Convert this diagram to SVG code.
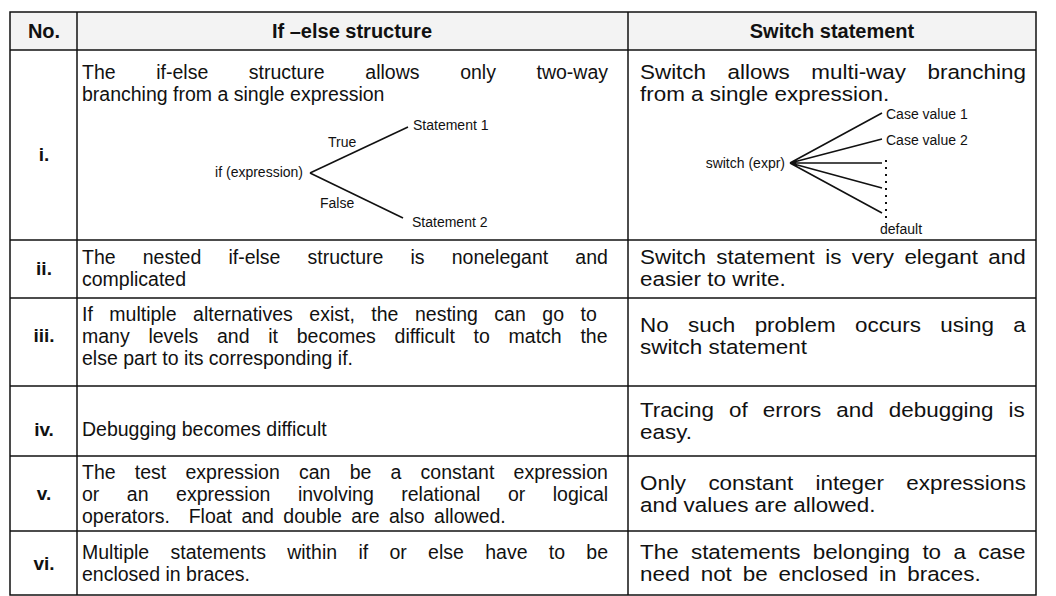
<svg xmlns="http://www.w3.org/2000/svg" width="1056" height="596" viewBox="0 0 1056 596">
  <style>
    text { font-family: "Liberation Sans", Arial, sans-serif; fill: #111; }
    .hd { font-size: 20px; font-weight: bold; }
    .no { font-size: 19px; font-weight: bold; text-anchor: middle; }
    .bd { font-size: 19.5px; }
    .sm { font-size: 14px; }
    .grid { stroke: #111; stroke-width: 1.5; fill: none; }
    .br { stroke: #111; stroke-width: 1.6; fill: none; }
  </style>

  <!-- table frame and rules -->
  <g id="table">
    <rect x="10" y="12" width="1026" height="38" fill="#f3f3f3"/>
    <rect class="grid" x="10" y="12" width="1026" height="583"/>
    <line class="grid" x1="77" y1="12" x2="77" y2="595"/>
    <line class="grid" x1="628" y1="12" x2="628" y2="595"/>
    <line class="grid" x1="10" y1="50" x2="1036" y2="50"/>
    <line class="grid" x1="10" y1="240" x2="1036" y2="240"/>
    <line class="grid" x1="10" y1="298" x2="1036" y2="298"/>
    <line class="grid" x1="10" y1="386" x2="1036" y2="386"/>
    <line class="grid" x1="10" y1="456" x2="1036" y2="456"/>
    <line class="grid" x1="10" y1="531" x2="1036" y2="531"/>
  </g>

  <!-- header -->
  <g id="header">
    <text class="hd" x="44" y="38" text-anchor="middle">No.</text>
    <text class="hd" x="352" y="38" text-anchor="middle">If –else structure</text>
    <text class="hd" x="832" y="38" text-anchor="middle">Switch statement</text>
  </g>

  <!-- row numbers -->
  <g id="row-numbers">
    <text class="no" x="44" y="161">i.</text>
    <text class="no" x="44" y="275">ii.</text>
    <text class="no" x="44" y="342">iii.</text>
    <text class="no" x="44" y="436">iv.</text>
    <text class="no" x="44" y="500">v.</text>
    <text class="no" x="44" y="570">vi.</text>
  </g>

  <!-- if-else column -->
  <g id="if-else-column">
    <text class="bd" x="82" y="79" word-spacing="35.2">The if-else structure allows only two-way</text>
    <text class="bd" x="82" y="101">branching from a single expression</text>
    <text class="bd" x="82" y="264" word-spacing="21.7">The nested if-else structure is nonelegant and</text>
    <text class="bd" x="82" y="286">complicated</text>
    <text class="bd" x="82" y="321" word-spacing="11.1">If multiple alternatives exist, the nesting can go to</text>
    <text class="bd" x="82" y="343" word-spacing="13.3">many levels and it becomes difficult to match the</text>
    <text class="bd" x="82" y="365">else part to its corresponding if.</text>
    <text class="bd" x="82" y="436">Debugging becomes difficult</text>
    <text class="bd" x="82" y="479" word-spacing="13.8">The test expression can be a constant expression</text>
    <text class="bd" x="82" y="501" word-spacing="22.1">or an expression involving relational or logical</text>
    <text class="bd" x="82" y="523" word-spacing="4" xml:space="preserve">operators.  Float and double are also allowed.</text>
    <text class="bd" x="82" y="559" word-spacing="15.9">Multiple statements within if or else have to be</text>
    <text class="bd" x="82" y="581">enclosed in braces.</text>
  </g>

  <!-- switch column: set slightly wider than the left column -->
  <g id="switch-column" transform="translate(640,0) scale(1.15,1)">
    <text class="bd" x="0" y="79" word-spacing="13.3">Switch allows multi-way branching</text>
    <text class="bd" x="0" y="101">from a single expression.</text>
    <text class="bd" x="0" y="264" word-spacing="3.6">Switch statement is very elegant and</text>
    <text class="bd" x="0" y="286">easier to write.</text>
    <text class="bd" x="0" y="332" word-spacing="11.4">No such problem occurs using a</text>
    <text class="bd" x="0" y="354">switch statement</text>
    <text class="bd" x="0" y="417" word-spacing="7.7">Tracing of errors and debugging is</text>
    <text class="bd" x="0" y="439">easy.</text>
    <text class="bd" x="0" y="490" word-spacing="14">Only constant integer expressions</text>
    <text class="bd" x="0" y="512">and values are allowed.</text>
    <text class="bd" x="0" y="559" word-spacing="5.3">The statements belonging to a case</text>
    <text class="bd" x="0" y="581" word-spacing="4">need not be enclosed in braces.</text>
  </g>

  <!-- if-else branching sketch -->
  <g id="if-node">
    <text class="sm" x="303" y="177" text-anchor="end">if (expression)</text>
  </g>
  <g id="stmt1-node">
    <text class="sm" x="413" y="130">Statement 1</text>
  </g>
  <g id="stmt2-node">
    <text class="sm" x="412" y="227">Statement 2</text>
  </g>

  <!-- switch branching sketch -->
  <g id="switch-node">
    <text class="sm" x="785" y="168" text-anchor="end">switch (expr)</text>
  </g>
  <g id="case1-node">
    <text class="sm" x="886" y="119">Case value 1</text>
  </g>
  <g id="case2-node">
    <text class="sm" x="886" y="145">Case value 2</text>
  </g>
  <g id="default-node">
    <text class="sm" x="880" y="234">default</text>
  </g>

  <g id="connectors">
    <path class="br" d="M310,173 L408,127"/>
    <path class="br" d="M310,173 L403,218"/>
    <text class="sm" x="328" y="147">True</text>
    <text class="sm" x="320" y="208">False</text>
    <path class="br" d="M790,163 L882,113 M790,163 L882,139 M790,163 L882,163 M790,163 L882,188 M790,163 L882,213"/>
    <line x1="886" y1="160" x2="886" y2="224" stroke="#111" stroke-width="2" stroke-dasharray="2 5"/>
  </g>
</svg>
